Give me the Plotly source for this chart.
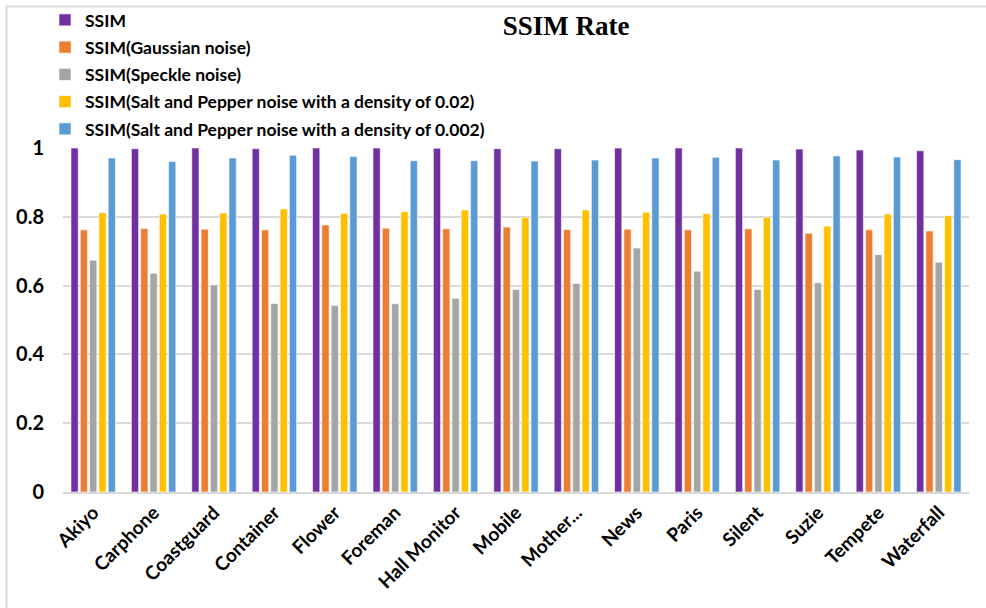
import plotly.graph_objects as go

categories = ["Akiyo", "Carphone", "Coastguard", "Container", "Flower", "Foreman",
              "Hall Monitor", "Mobile", "Mother...", "News", "Paris", "Silent",
              "Suzie", "Tempete", "Waterfall"]

ssim = [1.000, 0.998, 1.000, 0.998, 1.000, 1.000, 0.999, 0.998, 0.998, 1.000,
        1.000, 1.000, 0.997, 0.994, 0.992]
ssim_gaussian = [0.762, 0.766, 0.764, 0.762, 0.776, 0.767, 0.765, 0.770, 0.763, 0.764,
                 0.762, 0.765, 0.752, 0.762, 0.759]
ssim_speckle = [0.674, 0.636, 0.602, 0.548, 0.542, 0.547, 0.563, 0.589, 0.606, 0.709,
                0.642, 0.589, 0.608, 0.690, 0.668]
ssim_sp_002 = [0.812, 0.808, 0.811, 0.823, 0.810, 0.815, 0.820, 0.798, 0.820, 0.813,
               0.809, 0.799, 0.773, 0.808, 0.803]
ssim_sp_0002 = [0.971, 0.961, 0.971, 0.979, 0.975, 0.963, 0.963, 0.962, 0.965, 0.971,
                0.973, 0.965, 0.977, 0.974, 0.966]

series_names = ["SSIM", "SSIM(Gaussian noise)", "SSIM(Speckle noise)",
                "SSIM(Salt and Pepper noise with a density of 0.02)",
                "SSIM(Salt and Pepper noise with a density of 0.002)"]
series_values = [ssim, ssim_gaussian, ssim_speckle, ssim_sp_002, ssim_sp_0002]
colors = ["#7030A0", "#ED7D31", "#A5A5A5", "#FFC000", "#5B9BD5"]

fig = go.Figure()
for i, (name, vals, col) in enumerate(zip(series_names, series_values, colors)):
    fig.add_trace(go.Bar(
        x=categories, y=vals, name=name, legendgroup=f"g{i}",
        marker=dict(color=col, line=dict(color="white", width=0.6)),
    ))

W, H = 986, 608
ml, mr, mt, mb = 63, 17, 148, 116
pw, ph = W - ml - mr, H - mt - mb

def px_x(p):
    return (p - ml) / pw

def px_y(p):
    return (H - mb - p) / ph

fig.update_layout(
    width=W, height=H,
    margin=dict(l=ml, r=mr, t=mt, b=mb, autoexpand=False),
    paper_bgcolor="white", plot_bgcolor="white",
    barmode="group", bargap=0.23, bargroupgap=0.22,
    font=dict(family="Lato", color="black"),
    title=dict(text="<b>SSIM Rate</b>", x=566 / W, xanchor="center",
               y=1 - 26 / H, yanchor="middle",
               font=dict(family="Liberation Serif", size=27, color="black")),
    legend=dict(x=px_x(45), xanchor="left", y=px_y(2), yanchor="top",
                font=dict(family="Lato", size=17.5, color="black", weight="bold"),
                tracegroupgap=1.5, bgcolor="rgba(0,0,0,0)", itemwidth=30),
    showlegend=True,
)
fig.update_xaxes(
    type="category", showgrid=False, showline=True, linecolor="#D9D9D9", linewidth=2,
    ticks="", tickangle=-45, automargin=False,
    tickfont=dict(family="Lato", size=19, color="black", weight="bold"),
)
fig.update_yaxes(
    range=[0, 1], tickvals=[0, 0.2, 0.4, 0.6, 0.8, 1],
    ticktext=["0", "0.2", "0.4", "0.6", "0.8", "1"],
    showgrid=True, gridcolor="#D9D9D9", gridwidth=2, zeroline=False,
    showline=False, ticks="", ticklabelstandoff=18, automargin=False,
    tickfont=dict(family="Lato", size=20, color="black", weight="bold"),
)
# outer chart frame (top and left edges)
fig.add_shape(type="line", xref="paper", yref="paper",
              x0=px_x(6), x1=px_x(986), y0=px_y(6.5), y1=px_y(6.5),
              line=dict(color="#D9D9D9", width=2))
fig.add_shape(type="line", xref="paper", yref="paper",
              x0=px_x(6.5), x1=px_x(6.5), y0=px_y(6), y1=px_y(608),
              line=dict(color="#D9D9D9", width=2))

fig.write_html("out.html", config={"displayModeBar": False},
               post_script="document.body.style.margin='0';")
